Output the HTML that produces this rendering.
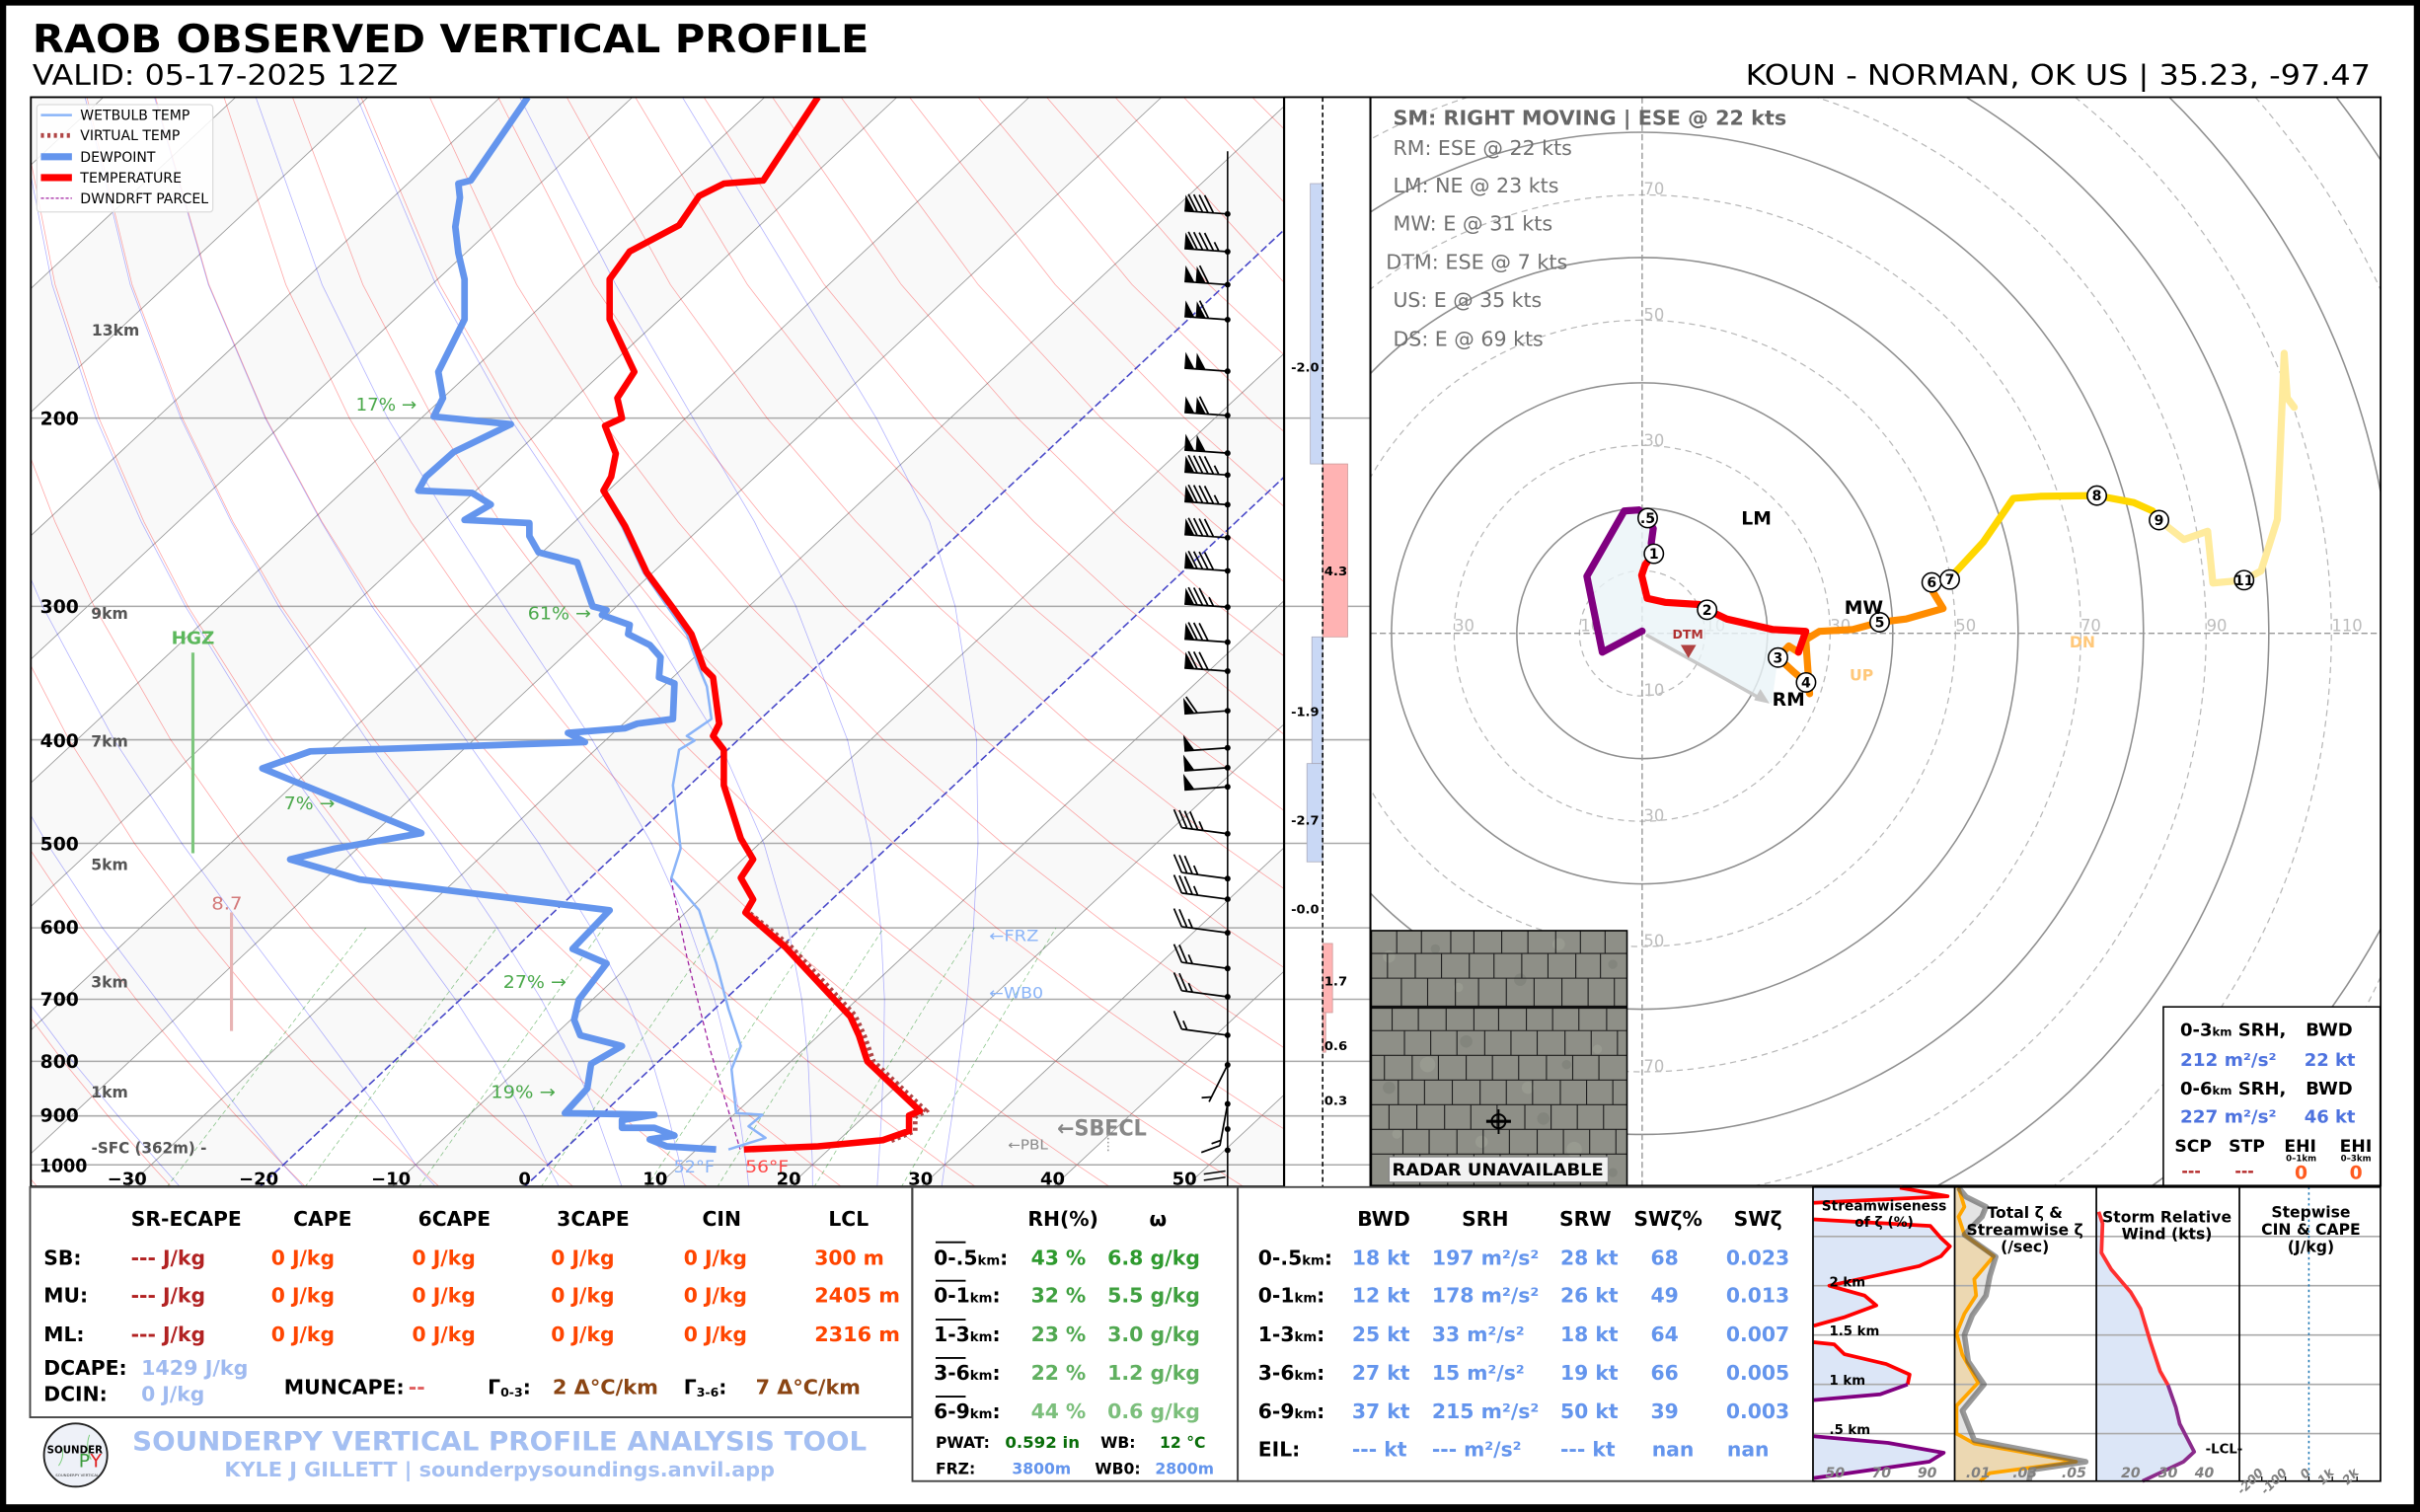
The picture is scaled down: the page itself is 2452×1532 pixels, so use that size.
<!DOCTYPE html>
<html><head><meta charset="utf-8">
<style>
html,body{margin:0;padding:0;background:#000;width:2452px;height:1532px;overflow:hidden;}
svg{display:block;}
text{font-family:"DejaVu Sans","Liberation Sans",sans-serif;}
.b{font-weight:bold;}
.mono{font-family:"DejaVu Sans Mono","Liberation Mono",monospace;font-weight:bold;}
</style></head>
<body>
<svg xmlns="http://www.w3.org/2000/svg" width="2452" height="1532" viewBox="0 0 1568 980" preserveAspectRatio="none" style="overflow:hidden">
<defs>
<clipPath id="cs"><rect x="20" y="63" width="812" height="706"/></clipPath>
<clipPath id="cb"><rect x="832" y="63" width="56" height="706"/></clipPath>
<clipPath id="ch"><rect x="888" y="63" width="654.5" height="705.5"/></clipPath>
<clipPath id="cmap"><rect x="888.5" y="603.2" width="165.7" height="165.3"/></clipPath>
<g id="bF4" stroke="#000" stroke-width="1.1" fill="none"><path d="M0,0H-28 M-19.7,0l-6.5,-11 M-16.2,0l-6.5,-11 M-12.7,0l-6.5,-11 M-9.2,0l-6.5,-11"/><polygon points="-28,0 -28,-10.5 -21.5,0" fill="#000" stroke="none"/></g>
<g id="bF4h" stroke="#000" stroke-width="1.1" fill="none"><path d="M0,0H-28 M-19.7,0l-6.5,-11 M-16.2,0l-6.5,-11 M-12.7,0l-6.5,-11 M-9.2,0l-6.5,-11 M-5.7,0l-3.25,-5.5"/><polygon points="-28,0 -28,-10.5 -21.5,0" fill="#000" stroke="none"/></g>
<g id="bFF1" stroke="#000" stroke-width="1.1" fill="none"><path d="M0,0H-28 M-12.4,0l-6.5,-11"/><polygon points="-28,0 -28,-10.5 -21.5,0" fill="#000" stroke="none"/><polygon points="-20.7,0 -20.7,-10.5 -14.2,0" fill="#000" stroke="none"/></g>
<g id="bFF" stroke="#000" stroke-width="1.1" fill="none"><path d="M0,0H-28"/><polygon points="-28,0 -28,-10.5 -21.5,0" fill="#000" stroke="none"/><polygon points="-20.7,0 -20.7,-10.5 -14.2,0" fill="#000" stroke="none"/></g>
<g id="bF3h" stroke="#000" stroke-width="1.1" fill="none"><path d="M0,0H-28 M-19.7,0l-6.5,-11 M-16.2,0l-6.5,-11 M-12.7,0l-6.5,-11 M-9.2,0l-3.25,-5.5"/><polygon points="-28,0 -28,-10.5 -21.5,0" fill="#000" stroke="none"/></g>
<g id="bF3" stroke="#000" stroke-width="1.1" fill="none"><path d="M0,0H-28 M-19.7,0l-6.5,-11 M-16.2,0l-6.5,-11 M-12.7,0l-6.5,-11"/><polygon points="-28,0 -28,-10.5 -21.5,0" fill="#000" stroke="none"/></g>
<g id="bF1" stroke="#000" stroke-width="1.1" fill="none"><path d="M0,0H-28 M-19.7,0l-6.5,-11"/><polygon points="-28,0 -28,-10.5 -21.5,0" fill="#000" stroke="none"/></g>
<g id="bF" stroke="#000" stroke-width="1.1" fill="none"><path d="M0,0H-28"/><polygon points="-28,0 -28,-10.5 -21.5,0" fill="#000" stroke="none"/></g>
<g id="b4h" stroke="#000" stroke-width="1.1" fill="none"><path d="M0,0H-30 M-30,0l-6.5,-11 M-26.5,0l-6.5,-11 M-23,0l-6.5,-11 M-19.5,0l-6.5,-11 M-16,0l-3.25,-5.5"/></g>
<g id="b3h" stroke="#000" stroke-width="1.1" fill="none"><path d="M0,0H-30 M-30,0l-6.5,-11 M-26.5,0l-6.5,-11 M-23,0l-6.5,-11 M-19.5,0l-3.25,-5.5"/></g>
<g id="b2h" stroke="#000" stroke-width="1.1" fill="none"><path d="M0,0H-30 M-30,0l-6.5,-11 M-26.5,0l-6.5,-11 M-23,0l-3.25,-5.5"/></g>
<g id="b1h" stroke="#000" stroke-width="1.1" fill="none"><path d="M0,0H-30 M-30,0l-6.5,-11 M-26.5,0l-3.25,-5.5"/></g>
</defs>
<rect x="0" y="0" width="1568" height="980" fill="#000"/>
<rect x="4" y="3.6" width="1560" height="971.4" fill="#fff"/>

<text x="21" y="34" class="b" font-size="25" textLength="542" lengthAdjust="spacingAndGlyphs">RAOB OBSERVED VERTICAL PROFILE</text>
<text x="21" y="55" font-size="18" textLength="237" lengthAdjust="spacingAndGlyphs">VALID: 05-17-2025 12Z</text>
<text x="1131" y="55" font-size="18" textLength="405" lengthAdjust="spacingAndGlyphs">KOUN - NORMAN, OK US | 35.23, -97.47</text>

<!-- SKEW-T -->
<g clip-path="url(#cs)">
  <rect x="20" y="63" width="812" height="706" fill="#fff"/>
  <g fill="#f9f9f9">
    <polygon points="20,63 67,63 20,106.9"/>
    <polygon points="20,187 152.7,63 238.4,63 20,267.1"/>
    <polygon points="20,347.2 324.1,63 409.8,63 20,427.3"/>
    <polygon points="20,507.4 495.5,63 581.2,63 20,587.5"/>
    <polygon points="20,667.6 666.9,63 752.6,63 20,747.7"/>
    <polygon points="81.8,770 832,68.9 832,149 167.5,770"/>
    <polygon points="253.2,770 832,229.1 832,309.2 338.9,770"/>
    <polygon points="424.6,770 832,389.3 832,469.3 510.3,770"/>
    <polygon points="596,770 832,549.4 832,629.5 681.7,770"/>
    <polygon points="767.4,770 832,709.6 832,770"/>
  </g>
  <path d="M20,271H832 M20,393H832 M20,479.5H832 M20,546.6H832 M20,601.4H832 M20,647.7H832 M20,687.9H832 M20,723.3H832 M20,755H832" stroke="#a9a9a9" stroke-width="1" fill="none"/>
  <path d="M20,106.9L67,63 M20,187L152.7,63 M20,267.1L238.4,63 M20,347.2L324.1,63 M20,427.3L409.8,63 M20,507.4L495.5,63 M20,587.5L581.2,63 M20,667.6L666.9,63 M20,747.7L752.6,63 M81.8,770L832,68.9 M253.2,770L832,229.1 M424.6,770L832,389.3 M510.3,770L832,469.3 M596,770L832,549.4 M681.7,770L832,629.5 M767.4,770L832,709.6" stroke="#999" stroke-width="0.55" fill="none"/>
  <path fill="none" stroke="#ff0000" stroke-opacity="0.35" stroke-width="0.5" d="M24.5,769.7 L20,764.3
M111.4,769.7 L97.9,755 L70,723.3 L41,687.9 L20,660
M198.3,769.7 L183.6,755 L153.2,723.3 L121.4,687.9 L88.2,647.7 L53.3,601.4 L20,551.4
M285.2,769.7 L269.3,755 L236.4,723.3 L201.8,687.9 L165.6,647.7 L127.4,601.4 L87.1,546.6 L44.7,479.5 L20,431.5
M372.1,769.7 L355,755 L319.5,723.3 L282.2,687.9 L243,647.7 L201.4,601.4 L157.4,546.6 L110.6,479.5 L61,393 L35.6,338.1 L20,297.2
M459,769.7 L440.7,755 L402.7,723.3 L362.6,687.9 L320.4,647.7 L275.5,601.4 L227.7,546.6 L176.6,479.5 L121.7,393 L93.2,338.1 L64.1,271 L35.7,184.5 L20,104.4
M545.9,769.7 L526.4,755 L485.8,723.3 L443,687.9 L397.8,647.7 L349.5,601.4 L298,546.6 L242.5,479.5 L182.5,393 L150.9,338.1 L118.2,271 L85.6,184.5 L56.2,62.6
M632.8,769.7 L612.1,755 L569,723.3 L523.5,687.9 L475.2,647.7 L423.6,601.4 L368.3,546.6 L308.5,479.5 L243.2,393 L208.6,338.1 L172.3,271 L135.4,184.5 L100.6,62.6
M719.7,769.7 L697.8,755 L652.2,723.3 L603.9,687.9 L552.6,647.7 L497.7,601.4 L438.6,546.6 L374.5,479.5 L304,393 L266.2,338.1 L226.4,271 L185.2,184.5 L145,62.6
M806.6,769.7 L783.5,755 L735.3,723.3 L684.3,687.9 L630,647.7 L571.7,601.4 L508.9,546.6 L440.4,479.5 L364.8,393 L323.9,338.1 L280.5,271 L235.1,184.5 L189.4,62.6
M893.5,769.7 L869.2,755 L818.5,723.3 L764.7,687.9 L707.4,647.7 L645.8,601.4 L579.2,546.6 L506.4,479.5 L425.5,393 L381.6,338.1 L334.6,271 L284.9,184.5 L233.8,62.6
M980.4,769.7 L954.9,755 L901.6,723.3 L845.1,687.9 L784.8,647.7 L719.9,601.4 L649.5,546.6 L572.4,479.5 L486.3,393 L439.2,338.1 L388.8,271 L334.8,184.5 L278.2,62.6
M984.8,723.3 L925.5,687.9 L862.2,647.7 L793.9,601.4 L719.8,546.6 L638.3,479.5 L547,393 L496.9,338.1 L442.9,271 L384.6,184.5 L322.6,62.6
M1068,723.3 L1005.9,687.9 L939.6,647.7 L868,601.4 L790.1,546.6 L704.3,479.5 L607.8,393 L554.6,338.1 L497,271 L434.4,184.5 L367,62.6
M1086.3,687.9 L1017,647.7 L942,601.4 L860.4,546.6 L770.3,479.5 L668.6,393 L612.2,338.1 L551.1,271 L484.3,184.5 L411.4,62.6
M1094.4,647.7 L1016.1,601.4 L930.7,546.6 L836.2,479.5 L729.3,393 L669.9,338.1 L605.2,271 L534.1,184.5 L455.8,62.6
M1090.1,601.4 L1001,546.6 L902.2,479.5 L790.1,393 L727.6,338.1 L659.3,271 L584,184.5 L500.2,62.6
M1071.3,546.6 L968.1,479.5 L850.9,393 L785.2,338.1 L713.4,271 L633.8,184.5 L544.6,62.6
M1034.1,479.5 L911.6,393 L842.9,338.1 L767.6,271 L683.7,184.5 L589,62.6
M972.4,393 L900.6,338.1 L821.7,271 L733.5,184.5 L633.4,62.6
M1033.2,393 L958.2,338.1 L875.8,271 L783.3,184.5 L677.8,62.6
M1015.9,338.1 L929.9,271 L833.2,184.5 L722.2,62.6
M984,271 L883,184.5 L766.6,62.6
M1038.1,271 L932.8,184.5 L811,62.6"/>
  <path fill="none" stroke="#0000ff" stroke-opacity="0.3" stroke-width="0.5" d="M610.1,769.7 L612.1,755 L616.9,723.3 L621.3,687.9 L626.6,647.7 L630.7,601.4 L633.7,546.6 L632.7,479.5 L618.9,393 L602.3,338.1 L567.8,271 L515.5,184.5 L441.9,62.6
M568.3,769.7 L569.3,755 L571.1,723.3 L572.5,687.9 L573.1,647.7 L570.7,601.4 L564.3,546.6 L549.1,479.5 L515.7,393 L488.8,338.1 L449.1,271 L399,184.5 L336.5,62.6
M526.5,769.7 L526.4,755 L525.2,723.3 L523.6,687.9 L519.5,647.7 L510.7,601.4 L494.9,546.6 L465.5,479.5 L412.4,393 L375.2,338.1 L330.4,271 L282.4,184.5 L231.1,62.6
M485.2,769.7 L483.6,755 L479.1,723.3 L473.1,687.9 L463,647.7 L446.9,601.4 L422.1,546.6 L383.7,479.5 L326.7,393 L291.7,338.1 L251.2,271 L208.7,184.5 L165.6,62.6
M443.8,769.7 L440.7,755 L433,723.3 L422.5,687.9 L406.4,647.7 L383,601.4 L349.2,546.6 L301.9,479.5 L241,393 L208.1,338.1 L171.9,271 L135,184.5 L100,62.6
M403.1,769.7 L397.9,755 L386.6,723.3 L371.5,687.9 L350.7,647.7 L322.2,601.4 L285.4,546.6 L237.6,479.5 L180.6,393 L149.8,338.1 L117.1,271 L84.4,184.5 L55,62.6
M362.4,769.7 L355,755 L340.1,723.3 L320.5,687.9 L295,647.7 L261.3,601.4 L221.5,546.6 L173.3,479.5 L120.1,393 L91.5,338.1 L62.2,271 L33.8,184.5 L20,113.8
M282.7,769.7 L269.3,755 L248.4,723.3 L222.4,687.9 L192.6,647.7 L157.6,601.4 L117.8,546.6 L73.9,479.5 L27.6,393 L20,375.3
M197,769.7 L183.6,755 L157.9,723.3 L131.1,687.9 L101.3,647.7 L66.4,601.4 L30.4,546.6 L20,528.6
M117,769.7 L104,755 L76.5,723.3 L47,687.9 L20,651.7"/>
  <path fill="none" stroke="#008000" stroke-opacity="0.45" stroke-width="0.5" stroke-dasharray="3,2" d="M107.9,769.7 L119.1,755 L143.3,723.3 L170.4,687.9 L201.3,647.7 L237.1,601.4
M197.4,769.7 L208.2,755 L231.4,723.3 L257.5,687.9 L287.3,647.7 L321.8,601.4
M271.1,769.7 L281.5,755 L303.8,723.3 L329,687.9 L357.8,647.7 L391.1,601.4
M350.3,769.7 L360.2,755 L381.7,723.3 L405.9,687.9 L433.5,647.7 L465.7,601.4
M418.7,769.7 L428.3,755 L448.9,723.3 L472.2,687.9 L498.9,647.7 L529.8,601.4
M464.5,769.7 L473.7,755 L493.8,723.3 L516.4,687.9 L542.5,647.7 L572.6,601.4
M527.3,769.7 L536.2,755 L555.5,723.3 L577.3,687.9 L602.3,647.7 L631.4,601.4
M583.8,769.7 L592.4,755 L610.9,723.3 L632,687.9 L656.1,647.7 L684.2,601.4"/>
  <path d="M167.5,770L832,149 M338.9,770L832,309.2" stroke="#4646c8" stroke-width="1" stroke-dasharray="5,2" fill="none"/>

  <polyline points="434.6,569 445,620 460,680 472,720 479.6,745" fill="none" stroke="#a020a0" stroke-width="0.8" stroke-dasharray="3,2"/>
  <polyline points="390,318 403,341 417,371 433,394 445,411 453,433 458,445 461,466 445,477 450,480 440,486 436,509 441,550 435,569 453,590 464,624 472,654 480,678 474,693 477,721.5 494,722.5 485,730 496,737.5 472,745" fill="none" stroke="#8ab4f8" stroke-width="1.6" stroke-linejoin="round"/>
  <polyline points="486,592 512,613 554,658 560,671 566,688 600,720 593,724 593,733 576,740" fill="none" stroke="#b04545" stroke-width="3" stroke-dasharray="2,2.2"/>
  <polyline points="342,63 305,117 297,119 298,128 295,147 297,164 301,181 301,207 284,241 287,258 281,270 331,275 294,293 276,309 271,318 306,319.5 318,327 301,337 343,339 343,347.5 349,358 374,364.5 384,393 393,395.4 390,398.6 408,405 407,411 421,418 428,426 427,439 437,443 436,466 413,469 405,472 368,475 379,481 201,487 170,498 273,540 217,550 188,557 233,570 395,590 371,615 393,624.5 375,648 372,661 376,671 403,678 383,689.5 380.5,705.5 366,721.5 424,722.5 403,726 403,731 424,731 437,736 421,738.5 432,743 464,745" fill="none" stroke="#6495ed" stroke-width="4.3" stroke-linejoin="round"/>
  <polyline points="530,63 494.5,117 469,119 453,127 440,146 408,163 395,181 395,207 411,241 400,258 403,271 392,276 399,294 396,309 391,318 405,341 419,371 436,394 448,411 456,433 462,439 466,469 462,477 469,486 469,509 480,543.5 488,557 480,569 488,583 483,591.5 509,614 551,659 556.5,671 562,688 596,720 589,723 589,733 572,739 530,743 482,745" fill="none" stroke="#ff0000" stroke-width="4.2" stroke-linejoin="round"/>

  <rect x="23.9" y="67.8" width="114" height="69.6" fill="#fff" fill-opacity="0.85" stroke="#dcdcdc" stroke-width="0.8" rx="2"/>
  <line x1="26.5" x2="46.6" y1="74.6" y2="74.6" stroke="#8ab4f8" stroke-width="1.6"/>
  <line x1="26.5" x2="46.6" y1="87.8" y2="87.8" stroke="#b04545" stroke-width="3" stroke-dasharray="2,2.2"/>
  <line x1="26.5" x2="46.6" y1="101.6" y2="101.6" stroke="#6495ed" stroke-width="4.5"/>
  <line x1="26.5" x2="46.6" y1="115.1" y2="115.1" stroke="#ff0000" stroke-width="4.5"/>
  <line x1="26.5" x2="46.6" y1="128.5" y2="128.5" stroke="#a020a0" stroke-width="0.8" stroke-dasharray="2,1.2"/>
  <text x="52" y="77.8" font-size="8.8" textLength="71" lengthAdjust="spacingAndGlyphs">WETBULB TEMP</text>
  <text x="52" y="91" font-size="8.8" textLength="64.6" lengthAdjust="spacingAndGlyphs">VIRTUAL TEMP</text>
  <text x="52" y="104.8" font-size="8.8" textLength="48.7" lengthAdjust="spacingAndGlyphs">DEWPOINT</text>
  <text x="52" y="118.3" font-size="8.8" textLength="65.7" lengthAdjust="spacingAndGlyphs">TEMPERATURE</text>
  <text x="52" y="131.7" font-size="8.8" textLength="83" lengthAdjust="spacingAndGlyphs">DWNDRFT PARCEL</text>

  <g class="b" font-size="10" fill="#555">
    <text x="59.4" y="217.6">13km</text>
    <text x="59" y="401">9km</text>
    <text x="59" y="484">7km</text>
    <text x="59" y="564">5km</text>
    <text x="59" y="640">3km</text>
    <text x="59" y="711.2">1km</text>
    <text x="59.2" y="747.4" textLength="74.7" lengthAdjust="spacingAndGlyphs">-SFC (362m) -</text>
  </g>
  <g font-size="11.5" fill="#4aa84a">
    <text x="230.5" y="266" textLength="39.5" lengthAdjust="spacingAndGlyphs">17% →</text>
    <text x="342" y="401.5" textLength="41" lengthAdjust="spacingAndGlyphs">61% →</text>
    <text x="184" y="524.5" textLength="33" lengthAdjust="spacingAndGlyphs">7% →</text>
    <text x="326" y="640.2" textLength="41" lengthAdjust="spacingAndGlyphs">27% →</text>
    <text x="318" y="711.6" textLength="42" lengthAdjust="spacingAndGlyphs">19% →</text>
  </g>
  <text x="111" y="417.5" class="b" font-size="11.5" fill="#5cb85c" textLength="28" lengthAdjust="spacingAndGlyphs">HGZ</text>
  <line x1="125" x2="125" y1="423" y2="553" stroke="#7dc67d" stroke-width="2"/>
  <text x="137" y="589.5" font-size="11.5" fill="#d47a7a" textLength="20" lengthAdjust="spacingAndGlyphs">8.7</text>
  <line x1="150" x2="150" y1="591.4" y2="668.2" stroke="#e8b4b4" stroke-width="2"/>
  <text x="641" y="610" font-size="10" fill="#8ab4f8" textLength="32" lengthAdjust="spacingAndGlyphs">←FRZ</text>
  <text x="641" y="647" font-size="10" fill="#8ab4f8" textLength="35" lengthAdjust="spacingAndGlyphs">←WB0</text>
  <text x="685" y="736" class="b" font-size="14" fill="#888" textLength="58" lengthAdjust="spacingAndGlyphs">←SBECL</text>
  <text x="653" y="745" font-size="8.5" fill="#888" textLength="26" lengthAdjust="spacingAndGlyphs">←PBL</text>
  <line x1="718" x2="718" y1="735" y2="746" stroke="#999" stroke-width="1" stroke-dasharray="1,1.5"/>
  <text x="436.5" y="760" font-size="11" fill="#8ab4f8" textLength="26.5" lengthAdjust="spacingAndGlyphs">52°F</text>
  <text x="483" y="760" font-size="11" fill="#ff4a4a" textLength="28" lengthAdjust="spacingAndGlyphs">56°F</text>

  <!-- wind barbs -->
  <line x1="795.4" x2="795.4" y1="98" y2="769" stroke="#000" stroke-width="1"/>
  <use href="#bF4" transform="translate(795.4,138.7) rotate(4.09)"/>
  <use href="#bF4h" transform="translate(795.4,163.1) rotate(4.09)"/>
  <use href="#bFF1" transform="translate(795.4,184.5) rotate(4.09)"/>
  <use href="#bFF1" transform="translate(795.4,207.2) rotate(4.09)"/>
  <use href="#bFF" transform="translate(795.4,240.6) rotate(4.09)"/>
  <use href="#bFF1" transform="translate(795.4,269.3) rotate(4.09)"/>
  <use href="#bFF" transform="translate(795.4,293.7) rotate(4.09)"/>
  <use href="#bF4h" transform="translate(795.4,307.9) rotate(4.09)"/>
  <use href="#bF4h" transform="translate(795.4,327.1) rotate(4.09)"/>
  <use href="#bF4" transform="translate(795.4,348.5) rotate(4.09)"/>
  <use href="#bF4" transform="translate(795.4,370) rotate(4.09)"/>
  <use href="#bF3h" transform="translate(795.4,393.5) rotate(4.09)"/>
  <use href="#bF3" transform="translate(795.4,416.2) rotate(4.09)"/>
  <use href="#bF3" transform="translate(795.4,435) rotate(4.09)"/>
  <use href="#bF1" transform="translate(795.4,460.7) rotate(-4.09)"/>
  <use href="#bF" transform="translate(795.4,484.7) rotate(-4.09)"/>
  <use href="#bF" transform="translate(795.4,497.6) rotate(-4.09)"/>
  <use href="#bF" transform="translate(795.4,510) rotate(-4.09)"/>
  <use href="#b4h" transform="translate(795.4,540.4) rotate(7.6)"/>
  <use href="#b3h" transform="translate(795.4,569.5) rotate(7.6)"/>
  <use href="#b3h" transform="translate(795.4,582.8) rotate(7.6)"/>
  <use href="#b2h" transform="translate(795.4,604.6) rotate(7.6)"/>
  <use href="#b2h" transform="translate(795.4,627.7) rotate(7.6)"/>
  <use href="#b2h" transform="translate(795.4,646.1) rotate(7.6)"/>
  <use href="#b1h" transform="translate(795.4,671) rotate(7.6)"/>
  <g transform="translate(795.4,690.2) rotate(-63.4)" stroke="#000" stroke-width="1.1" fill="none"><path d="M0,0H-26.8 M-23.3,0l-3.25,-5.5"/></g>
  <g transform="translate(795.4,715.5) rotate(-79.5)" stroke="#000" stroke-width="1.1" fill="none"><path d="M0,0H-27.5 M-27.5,0l-6.5,-11 M-24,0l-3.25,-5.5"/></g>
  <path d="M780,761L794,759 M780,765L794,763" stroke="#000" stroke-width="1" fill="none"/>
  <g fill="#000">
    <circle cx="795.4" cy="138.7" r="1.9"/><circle cx="795.4" cy="163.1" r="1.9"/><circle cx="795.4" cy="184.5" r="1.9"/>
    <circle cx="795.4" cy="207.2" r="1.9"/><circle cx="795.4" cy="240.6" r="1.9"/><circle cx="795.4" cy="269.3" r="1.9"/>
    <circle cx="795.4" cy="293.7" r="1.9"/><circle cx="795.4" cy="307.9" r="1.9"/><circle cx="795.4" cy="327.1" r="1.9"/>
    <circle cx="795.4" cy="348.5" r="1.9"/><circle cx="795.4" cy="370" r="1.9"/><circle cx="795.4" cy="393.5" r="1.9"/>
    <circle cx="795.4" cy="416.2" r="1.9"/><circle cx="795.4" cy="435" r="1.9"/><circle cx="795.4" cy="460.7" r="1.9"/>
    <circle cx="795.4" cy="484.7" r="1.9"/><circle cx="795.4" cy="497.6" r="1.9"/><circle cx="795.4" cy="510" r="1.9"/>
    <circle cx="795.4" cy="540.4" r="1.9"/><circle cx="795.4" cy="569.5" r="1.9"/><circle cx="795.4" cy="582.8" r="1.9"/>
    <circle cx="795.4" cy="604.6" r="1.9"/><circle cx="795.4" cy="627.7" r="1.9"/><circle cx="795.4" cy="646.1" r="1.9"/>
    <circle cx="795.4" cy="671" r="1.9"/><circle cx="795.4" cy="690.2" r="1.9"/><circle cx="795.4" cy="715.5" r="1.9"/>
    <circle cx="795.4" cy="731.8" r="1.9"/><circle cx="795.4" cy="745.5" r="1.9"/>
  </g>

  <g class="b" font-size="12" fill="#000">
    <text x="26" y="275.3">200</text>
    <text x="26" y="397.3">300</text>
    <text x="26" y="484.3">400</text>
    <text x="26" y="551">500</text>
    <text x="26" y="605">600</text>
    <text x="26" y="652">700</text>
    <text x="26" y="692">800</text>
    <text x="26" y="727">900</text>
    <text x="25.5" y="759.5" textLength="31" lengthAdjust="spacingAndGlyphs">1000</text>
  </g>
  <g class="b" font-size="11.5" fill="#000" text-anchor="middle">
    <text x="82.3" y="768">−30</text>
    <text x="167.6" y="768">−20</text>
    <text x="253.3" y="768">−10</text>
    <text x="340" y="768">0</text>
    <text x="424.5" y="768">10</text>
    <text x="511" y="768">20</text>
    <text x="596.5" y="768">30</text>
    <text x="682" y="768">40</text>
    <text x="767.5" y="768">50</text>
  </g>
</g>
<rect x="20" y="63" width="812" height="706" fill="none" stroke="#000" stroke-width="1.2"/>

<!-- BAR PANEL -->
<g clip-path="url(#cb)">
  <path d="M832,271H888 M832,393H888 M832,479.5H888 M832,546.6H888 M832,601.4H888 M832,647.7H888 M832,687.9H888 M832,723.3H888 M832,755H888" stroke="#a9a9a9" stroke-width="1" fill="none"/>
  <rect x="849" y="119" width="8" height="181.7" fill="#c9d8f5" stroke="#aab" stroke-width="0.5"/>
  <rect x="857" y="300.7" width="16.2" height="112.1" fill="#ffb3b3" stroke="#c99" stroke-width="0.5"/>
  <rect x="850" y="412.8" width="7" height="82.1" fill="#c9d8f5" stroke="#aab" stroke-width="0.5"/>
  <rect x="846.8" y="494.9" width="10.2" height="63.7" fill="#c9d8f5" stroke="#aab" stroke-width="0.5"/>
  <rect x="857" y="611.5" width="6.4" height="44.8" fill="#ffb3b3" stroke="#c99" stroke-width="0.5"/>
  <rect x="857" y="656.3" width="2" height="25.7" fill="#ffb3b3" stroke="#c99" stroke-width="0.5"/>
  <line x1="857" x2="857" y1="63" y2="769" stroke="#000" stroke-width="1" stroke-dasharray="3,2"/>
  <g class="mono" font-size="8">
    <text x="836.5" y="240.8" textLength="18.2" lengthAdjust="spacingAndGlyphs">-2.0</text>
    <text x="858" y="373" textLength="15" lengthAdjust="spacingAndGlyphs">4.3</text>
    <text x="836.5" y="464" textLength="18.2" lengthAdjust="spacingAndGlyphs">-1.9</text>
    <text x="836.5" y="534.6" textLength="18.2" lengthAdjust="spacingAndGlyphs">-2.7</text>
    <text x="836.5" y="592" textLength="18.2" lengthAdjust="spacingAndGlyphs">-0.0</text>
    <text x="858" y="638.8" textLength="15" lengthAdjust="spacingAndGlyphs">1.7</text>
    <text x="858" y="680.5" textLength="15" lengthAdjust="spacingAndGlyphs">0.6</text>
    <text x="858" y="716" textLength="15" lengthAdjust="spacingAndGlyphs">0.3</text>
  </g>
</g>
<line x1="832" x2="832" y1="63" y2="769" stroke="#000" stroke-width="1.4"/>
<line x1="888" x2="888" y1="63" y2="769" stroke="#000" stroke-width="1.4"/>
<line x1="832" x2="888" y1="63" y2="63" stroke="#000" stroke-width="1.2"/>

<!-- HODOGRAPH -->
<g clip-path="url(#ch)">
  <rect x="888" y="63" width="654.5" height="705.5" fill="#fff"/>
  <g fill="none" stroke="#b8b8b8" stroke-width="0.8" stroke-dasharray="4,3">
    <circle cx="1064" cy="410.5" r="40.6"/><circle cx="1064" cy="410.5" r="121.8"/>
    <circle cx="1064" cy="410.5" r="203"/><circle cx="1064" cy="410.5" r="284.2"/>
    <circle cx="1064" cy="410.5" r="365.4"/>
    <path d="M1344.5,63 A446.6,446.6 0 0 1 1331,768.5"/>
    <path d="M1461.3,63 A527.8,527.8 0 0 1 1542.5,187.8 M1542.5,633.2 A527.8,527.8 0 0 1 1451.8,768.5"/>
  </g>
  <g fill="none" stroke="#8f8f8f" stroke-width="1">
    <circle cx="1064" cy="410.5" r="81.2"/><circle cx="1064" cy="410.5" r="162.4"/>
    <circle cx="1064" cy="410.5" r="243.6"/><circle cx="1064" cy="410.5" r="324.8"/>
    <path d="M1274,63 A406,406 0 0 1 1255.5,768.5"/>
    <path d="M1405.5,63 A487.2,487.2 0 0 1 1542.5,318.8 M1542.5,602.2 A487.2,487.2 0 0 1 1394.5,768.5"/>
    <path d="M1513.8,63 A568.4,568.4 0 0 1 1542.5,103.7 M1542.5,717.3 A568.4,568.4 0 0 1 1505.5,768.5"/>
  </g>
  <line x1="888" x2="1542.5" y1="410.5" y2="410.5" stroke="#999" stroke-width="0.9" stroke-dasharray="4,2"/>
  <line x1="1064" x2="1064" y1="63" y2="768.5" stroke="#999" stroke-width="0.9" stroke-dasharray="4,2"/>
  <g font-size="10.5" fill="#bdbdbd">
    <text x="942" y="409">30</text>
    <text x="1024" y="409">10</text>
    <text x="1104.6" y="409">10</text>
    <text x="1185.8" y="409">30</text>
    <text x="1267" y="409">50</text>
    <text x="1348" y="409">70</text>
    <text x="1429.6" y="409">90</text>
    <text x="1510.7" y="409">110</text>
    <text x="1065" y="126">70</text>
    <text x="1065" y="207.5">50</text>
    <text x="1065" y="289">30</text>
    <text x="1065" y="451">10</text>
    <text x="1065" y="532.3">30</text>
    <text x="1065" y="613.5">50</text>
    <text x="1065" y="694.7">70</text>
  </g>
  <polygon points="1064,409 1038.2,422.7 1028.2,373.5 1052.4,331.2 1061.9,330.5 1067.6,335.8 1071.2,342.6 1069.9,352.1 1071.6,358.9 1063.7,372.9 1067.3,387.8 1078.8,390.4 1101,391.8 1106.1,395.2 1118.7,401.2 1148.5,408 1170,409.2 1165.3,422.7 1152,426.2 1148,456" fill="#eaf4f7" fill-opacity="0.8"/>
  <line x1="1066.5" y1="411.4" x2="1142" y2="453.5" stroke="#c8c8c8" stroke-width="2.2"/>
  <polygon points="1146.6,456 1136.5,453.8 1140.6,446.6" fill="#c8c8c8"/>
  <g fill="none" stroke-width="4.6" stroke-linejoin="round" stroke-linecap="round">
    <polyline stroke="#ffeb9c" points="1398.9,337.1 1415,349.7 1430.4,344.3 1433.8,377.9 1454,376 1465,370 1475.6,336.6 1480,229 1482,258 1486.5,264"/>
    <polyline stroke="#ffd700" points="1263.3,375.6 1267.6,370.2 1285,351.4 1304.5,323 1321.9,321.7 1358.6,321.2 1382.5,325.7 1394.6,331.1 1398.9,337.1"/>
    <polyline stroke="#ff8c00" points="1165.3,422.7 1159,418.7 1152,426.2 1161.4,434.8 1170.2,442.3 1172.5,449.6 1170,414.6 1178.9,409.2 1200.5,408 1217.9,403.3 1235,401.2 1259,394.4 1252.5,383.7 1251.6,377.5 1263.3,375.6"/>
    <polyline stroke="#ff0000" points="1071.6,358.9 1066,366 1063.7,372.9 1067.3,387.8 1078.8,390.4 1101,391.8 1106.1,395.2 1118.7,401.2 1148.5,408 1170,409.2 1165.3,422.7"/>
    <polyline stroke="#800080" points="1064,409 1038.2,422.7 1028.2,373.5 1052.4,331.2 1061.9,330.5 1067.6,335.8 1071.2,342.6 1069.9,352.1 1071.6,358.9"/>
  </g>
  <g stroke="#000" stroke-width="1" fill="#fff">
    <circle cx="1067.6" cy="335.8" r="6.2"/><circle cx="1071.6" cy="358.9" r="6.2"/>
    <circle cx="1106.1" cy="395.2" r="6.2"/><circle cx="1152" cy="426.2" r="6.2"/>
    <circle cx="1170.2" cy="442.3" r="6.2"/><circle cx="1217.9" cy="403.3" r="6.2"/>
    <circle cx="1251.6" cy="377.5" r="6.2"/><circle cx="1263.3" cy="375.6" r="6.2"/>
    <circle cx="1358.6" cy="321.2" r="6.2"/><circle cx="1398.9" cy="337.1" r="6.2"/>
    <circle cx="1454" cy="376" r="6.2"/>
  </g>
  <g class="b" font-size="9" text-anchor="middle" fill="#000">
    <text x="1067.6" y="339">.5</text><text x="1071.6" y="362.1">1</text>
    <text x="1106.1" y="398.4">2</text><text x="1152" y="429.4">3</text>
    <text x="1170.2" y="445.5">4</text><text x="1217.9" y="406.5">5</text>
    <text x="1251.6" y="380.7">6</text><text x="1263.3" y="378.8">7</text>
    <text x="1358.6" y="324.4">8</text><text x="1398.9" y="340.3">9</text>
    <text x="1454" y="379.2">11</text>
  </g>
  <text x="1128.2" y="340" class="b" font-size="12">LM</text>
  <text x="1195" y="398" class="b" font-size="12">MW</text>
  <text x="1148.3" y="457.5" class="b" font-size="12">RM</text>
  <text x="1083.6" y="414" class="b" font-size="8" fill="#b03030">DTM</text>
  <polygon points="1089,418 1099,418 1094,426.5" fill="#b04040"/>
  <text x="1198.4" y="441" class="b" font-size="10" fill="#ffc87a">UP</text>
  <text x="1340.9" y="419.5" class="b" font-size="10" fill="#ffc87a">DN</text>

  <text x="902.6" y="81" class="b" font-size="13" fill="#666" textLength="255" lengthAdjust="spacingAndGlyphs">SM: RIGHT MOVING | ESE @ 22 kts</text>
  <g font-size="13" fill="#707070">
    <text x="902.6" y="100.5" textLength="116" lengthAdjust="spacingAndGlyphs">RM: ESE @ 22 kts</text>
    <text x="902.6" y="124.8" textLength="107.4" lengthAdjust="spacingAndGlyphs">LM: NE @ 23 kts</text>
    <text x="902.6" y="149.5" textLength="103.4" lengthAdjust="spacingAndGlyphs">MW: E @ 31 kts</text>
    <text x="898" y="174.3" textLength="117.7" lengthAdjust="spacingAndGlyphs">DTM: ESE @ 7 kts</text>
    <text x="902.6" y="199" textLength="96.4" lengthAdjust="spacingAndGlyphs">US: E @ 35 kts</text>
    <text x="902.6" y="224.3" textLength="97.4" lengthAdjust="spacingAndGlyphs">DS: E @ 69 kts</text>
  </g>

  <!-- radar map -->
  <g clip-path="url(#cmap)">
    <rect x="888.5" y="603.2" width="165.7" height="165.3" fill="#8e8f87"/>
    <g fill="#9fa296" fill-opacity="0.6">
      <circle cx="900" cy="620" r="4"/><circle cx="945" cy="640" r="3"/><circle cx="1010" cy="612" r="4"/>
      <circle cx="925" cy="690" r="5"/><circle cx="990" cy="705" r="4"/><circle cx="1035" cy="680" r="3"/>
      <circle cx="960" cy="740" r="4"/><circle cx="1020" cy="745" r="5"/><circle cx="905" cy="735" r="3"/>
    </g>
    <g fill="#7b7e76" fill-opacity="0.6">
      <circle cx="930" cy="615" r="3"/><circle cx="985" cy="635" r="4"/><circle cx="1045" cy="625" r="3"/>
      <circle cx="950" cy="675" r="4"/><circle cx="1015" cy="690" r="3"/><circle cx="900" cy="705" r="4"/>
      <circle cx="940" cy="755" r="3"/><circle cx="1000" cy="725" r="4"/><circle cx="1045" cy="760" r="3"/>
    </g>
    <path fill="none" stroke="#1e1e1e" stroke-width="0.7" d="M888.5,618H1054.2 M888.5,634H1054.2 M888.5,668H1054.2 M888.5,684H1054.2 M888.5,700H1054.2 M888.5,716H1054.2 M888.5,732H1054.2 M888.5,748H1054.2
M905,603V618 M921,603V618 M940,603V618 M955,603V618 M973,603V618 M990,603V618 M1008,603V618 M1024,603V618 M1040,603V618
M899,618V634 M917,618V634 M934,618V634 M952,618V634 M968,618V634 M986,618V634 M1003,618V634 M1021,618V634 M1037,618V634
M908,634V653 M925,634V653 M943,634V653 M958,634V653 M976,634V653 M994,634V653 M1012,634V653 M1029,634V653 M1046,634V653
M902,653V668 M919,653V668 M937,653V668 M955,653V668 M971,653V668 M989,653V668 M1006,653V668 M1023,653V668 M1041,653V668
M910,668V684 M927,668V684 M944,668V684 M962,668V684 M979,668V684 M996,668V684 M1014,668V684 M1031,668V684 M1048,668V684
M897,684V700 M915,684V700 M932,684V700 M950,684V700 M967,684V700 M984,684V700 M1002,684V700 M1019,684V700 M1036,684V700
M906,700V716 M923,700V716 M941,700V716 M959,700V716 M976,700V716 M993,700V716 M1011,700V716 M1028,700V716 M1045,700V716
M900,716V732 M918,716V732 M936,716V732 M953,716V732 M970,716V732 M988,716V732 M1005,716V732 M1022,716V732 M1039,716V732
M909,732V748 M926,732V748 M944,732V748 M961,732V748 M978,732V748 M996,732V748 M1013,732V748 M1030,732V748 M1047,732V748
M903,748V768 M920,748V768 M938,748V768 M955,748V768 M972,748V768 M990,748V768 M1007,748V768 M1024,748V768 M1041,748V768"/>
    <line x1="888.5" x2="1054.2" y1="652.8" y2="652.8" stroke="#111" stroke-width="2"/>
    <circle cx="971" cy="726.8" r="4.5" fill="none" stroke="#000" stroke-width="1.3"/>
    <line x1="963" x2="979" y1="726.8" y2="726.8" stroke="#000" stroke-width="2"/>
    <line x1="971" x2="971" y1="719" y2="735" stroke="#000" stroke-width="1.2"/>
    <rect x="900" y="749.8" width="142" height="16.4" fill="#f2f2f2" stroke="#888" stroke-width="0.8"/>
    <text x="902" y="762" class="b" font-size="11" textLength="137" lengthAdjust="spacingAndGlyphs">RADAR UNAVAILABLE</text>
  </g>
  <rect x="888.5" y="603.2" width="165.7" height="165.3" fill="none" stroke="#000" stroke-width="1"/>

  <rect x="1401.7" y="652.6" width="140.5" height="116" fill="#fff" stroke="#000" stroke-width="1"/>
  <g class="b">
    <text x="1412.6" y="671.5" font-size="11.5">0-3<tspan font-size="7.5">km</tspan> SRH,</text>
    <text x="1494" y="671.5" font-size="11.5">BWD</text>
    <text x="1412.6" y="691" font-size="11.5" fill="#4e73df" textLength="62.4" lengthAdjust="spacingAndGlyphs">212 m²/s²</text>
    <text x="1493" y="691" font-size="11.5" fill="#4e73df">22 kt</text>
    <text x="1412.6" y="709.5" font-size="11.5">0-6<tspan font-size="7.5">km</tspan> SRH,</text>
    <text x="1494" y="709.5" font-size="11.5">BWD</text>
    <text x="1412.6" y="727.5" font-size="11.5" fill="#4e73df" textLength="62.4" lengthAdjust="spacingAndGlyphs">227 m²/s²</text>
    <text x="1493" y="727.5" font-size="11.5" fill="#4e73df">46 kt</text>
    <text x="1409" y="746.5" font-size="11">SCP</text>
    <text x="1444" y="746.5" font-size="11">STP</text>
    <text x="1480" y="746.5" font-size="11">EHI</text>
    <text x="1516" y="746.5" font-size="11">EHI</text>
    <text x="1491" y="752.5" font-size="5.5" text-anchor="middle">0–1km</text>
    <text x="1526.5" y="752.5" font-size="5.5" text-anchor="middle">0–3km</text>
    <text x="1413.5" y="762.5" font-size="10" fill="#b22222">---</text>
    <text x="1448" y="762.5" font-size="10" fill="#b22222">---</text>
    <text x="1491" y="764" font-size="12" fill="#ff5a1f" text-anchor="middle">0</text>
    <text x="1526.5" y="764" font-size="12" fill="#ff5a1f" text-anchor="middle">0</text>
  </g>
</g>
<rect x="888" y="63" width="654.5" height="705.5" fill="none" stroke="#000" stroke-width="1.2"/>

<!-- BOTTOM LEFT TABLE -->
<rect x="19.5" y="769.4" width="571.5" height="149.2" fill="#fff" stroke="#444" stroke-width="1.2"/>
<g class="b" font-size="13">
  <g text-anchor="middle">
    <text x="120.7" y="794.5">SR-ECAPE</text>
    <text x="209" y="794.5">CAPE</text>
    <text x="294.4" y="794.5">6CAPE</text>
    <text x="384.3" y="794.5">3CAPE</text>
    <text x="467.6" y="794.5">CIN</text>
    <text x="549.8" y="794.5">LCL</text>
  </g>
  <text x="28.3" y="819.7">SB:</text>
  <text x="28.3" y="844.2">MU:</text>
  <text x="28.3" y="869.2">ML:</text>
  <g fill="#b22222">
    <text x="84.8" y="819.7">--- J/kg</text>
    <text x="84.8" y="844.2">--- J/kg</text>
    <text x="84.8" y="869.2">--- J/kg</text>
  </g>
  <g fill="#ff4500">
    <text x="175.7" y="819.7">0 J/kg</text><text x="267" y="819.7">0 J/kg</text><text x="357" y="819.7">0 J/kg</text><text x="443" y="819.7">0 J/kg</text>
    <text x="175.7" y="844.2">0 J/kg</text><text x="267" y="844.2">0 J/kg</text><text x="357" y="844.2">0 J/kg</text><text x="443" y="844.2">0 J/kg</text>
    <text x="175.7" y="869.2">0 J/kg</text><text x="267" y="869.2">0 J/kg</text><text x="357" y="869.2">0 J/kg</text><text x="443" y="869.2">0 J/kg</text>
    <text x="527.7" y="819.7">300 m</text>
    <text x="527.7" y="844.2" textLength="55.5" lengthAdjust="spacingAndGlyphs">2405 m</text>
    <text x="527.7" y="869.2" textLength="55.5" lengthAdjust="spacingAndGlyphs">2316 m</text>
  </g>
  <text x="28.3" y="891">DCAPE:</text>
  <text x="91.5" y="891" fill="#9fbaf0" textLength="69.3" lengthAdjust="spacingAndGlyphs">1429 J/kg</text>
  <text x="28.3" y="908">DCIN:</text>
  <text x="91.5" y="908" fill="#9fbaf0">0 J/kg</text>
  <text x="184" y="903.5" textLength="78" lengthAdjust="spacingAndGlyphs">MUNCAPE:</text>
  <text x="264.6" y="903.5" fill="#e06060">--</text>
  <text x="316" y="903.5">Γ<tspan font-size="8" dy="1.5">0-3</tspan><tspan dy="-1.5">:</tspan></text>
  <text x="358" y="903.5" fill="#8b4513" textLength="68.5" lengthAdjust="spacingAndGlyphs">2 Δ°C/km</text>
  <text x="443" y="903.5">Γ<tspan font-size="8" dy="1.5">3-6</tspan><tspan dy="-1.5">:</tspan></text>
  <text x="489.6" y="903.5" fill="#8b4513" textLength="68" lengthAdjust="spacingAndGlyphs">7 Δ°C/km</text>
</g>

<!-- footer -->
<circle cx="49" cy="943.1" r="20.5" fill="#eef1f8" stroke="#222" stroke-width="1.2"/>
<path d="M38,950 q4,-6 2,-12 M58,930 q-3,8 1,16" fill="none" stroke="#7c7" stroke-width="0.6"/>
<text x="30.5" y="941.8" class="b" font-size="6.8" textLength="36" lengthAdjust="spacingAndGlyphs">SOUNDER</text>
<text x="51" y="951" font-size="12" fill="#3a9a3a">P</text>
<text x="58.5" y="951" font-size="12" fill="#e02020">Y</text>
<text x="36" y="957" font-size="2.5" fill="#333">SOUNDERPY VERTICAL</text>
<text x="85.8" y="940" class="b" font-size="17" fill="#a4bff2" textLength="475.8" lengthAdjust="spacingAndGlyphs">SOUNDERPY VERTICAL PROFILE ANALYSIS TOOL</text>
<text x="145.4" y="957" class="b" font-size="13" fill="#a4bff2" textLength="356.6" lengthAdjust="spacingAndGlyphs">KYLE J GILLETT | sounderpysoundings.anvil.app</text>

<!-- RH BOX -->
<rect x="591.2" y="769.4" width="210.8" height="190.6" fill="#fff" stroke="#444" stroke-width="1.2"/>
<g class="b">
  <text x="688.8" y="794.5" font-size="13" text-anchor="middle">RH(%)</text>
  <text x="750.3" y="794.5" font-size="13" text-anchor="middle">ω</text>
  <path d="M606.2,805.2H625.7 M606.2,830.1H625.7 M606.2,855.3H625.7 M606.2,880.2H625.7 M606.2,905.2H625.7" stroke="#000" stroke-width="1.2"/>
  <g font-size="13">
    <text x="605" y="819.7">0-.5<tspan font-size="8.5">km</tspan>:</text>
    <text x="605" y="844.2">0-1<tspan font-size="8.5">km</tspan>:</text>
    <text x="605" y="869.4">1-3<tspan font-size="8.5">km</tspan>:</text>
    <text x="605" y="894.3">3-6<tspan font-size="8.5">km</tspan>:</text>
    <text x="605" y="919.3">6-9<tspan font-size="8.5">km</tspan>:</text>
    <text x="668" y="819.7" fill="#2e9a2e">43 %</text><text x="717.6" y="819.7" fill="#2e9a2e" textLength="60" lengthAdjust="spacingAndGlyphs">6.8 g/kg</text>
    <text x="668" y="844.2" fill="#3fa03f">32 %</text><text x="717.6" y="844.2" fill="#3fa03f" textLength="60" lengthAdjust="spacingAndGlyphs">5.5 g/kg</text>
    <text x="668" y="869.4" fill="#50a850">23 %</text><text x="717.6" y="869.4" fill="#50a850" textLength="60" lengthAdjust="spacingAndGlyphs">3.0 g/kg</text>
    <text x="668" y="894.3" fill="#60b060">22 %</text><text x="717.6" y="894.3" fill="#60b060" textLength="60" lengthAdjust="spacingAndGlyphs">1.2 g/kg</text>
    <text x="668" y="919.3" fill="#7cbf7c">44 %</text><text x="717.6" y="919.3" fill="#7cbf7c" textLength="60" lengthAdjust="spacingAndGlyphs">0.6 g/kg</text>
  </g>
  <g font-size="10">
    <text x="606.2" y="938.5">PWAT:</text>
    <text x="651.2" y="938.5" fill="#0a6e0a" textLength="48.4" lengthAdjust="spacingAndGlyphs">0.592 in</text>
    <text x="713.1" y="938.5">WB:</text>
    <text x="751.4" y="938.5" fill="#0a6e0a">12 °C</text>
    <text x="606.2" y="955.3">FRZ:</text>
    <text x="655.7" y="955.3" fill="#6495ed">3800m</text>
    <text x="709.4" y="955.3">WB0:</text>
    <text x="748.4" y="955.3" fill="#6495ed">2800m</text>
  </g>
</g>

<!-- BWD BOX -->
<rect x="802" y="769.4" width="373.4" height="190.6" fill="#fff" stroke="#444" stroke-width="1.2"/>
<g class="b" font-size="13">
  <g text-anchor="middle">
    <text x="896.6" y="794.5">BWD</text>
    <text x="962.3" y="794.5">SRH</text>
    <text x="1027.2" y="794.5">SRW</text>
    <text x="1080.8" y="794.5">SWζ%</text>
    <text x="1139" y="794.5">SWζ</text>
  </g>
  <text x="815.2" y="819.7">0-.5<tspan font-size="8.5">km</tspan>:</text>
  <text x="815.2" y="844.2">0-1<tspan font-size="8.5">km</tspan>:</text>
  <text x="815.2" y="869.4">1-3<tspan font-size="8.5">km</tspan>:</text>
  <text x="815.2" y="894.3">3-6<tspan font-size="8.5">km</tspan>:</text>
  <text x="815.2" y="919.3">6-9<tspan font-size="8.5">km</tspan>:</text>
  <text x="815.2" y="944">EIL:</text>
  <g fill="#6495ed">
    <text x="876" y="819.7">18 kt</text><text x="927.8" y="819.7" textLength="69.4" lengthAdjust="spacingAndGlyphs">197 m²/s²</text><text x="1011" y="819.7">28 kt</text><text x="1078.6" y="819.7" text-anchor="middle">68</text><text x="1118.4" y="819.7">0.023</text>
    <text x="876" y="844.2">12 kt</text><text x="927.8" y="844.2" textLength="69.4" lengthAdjust="spacingAndGlyphs">178 m²/s²</text><text x="1011" y="844.2">26 kt</text><text x="1078.6" y="844.2" text-anchor="middle">49</text><text x="1118.4" y="844.2">0.013</text>
    <text x="876" y="869.4">25 kt</text><text x="927.8" y="869.4" textLength="60" lengthAdjust="spacingAndGlyphs">33 m²/s²</text><text x="1011" y="869.4">18 kt</text><text x="1078.6" y="869.4" text-anchor="middle">64</text><text x="1118.4" y="869.4">0.007</text>
    <text x="876" y="894.3">27 kt</text><text x="927.8" y="894.3" textLength="60" lengthAdjust="spacingAndGlyphs">15 m²/s²</text><text x="1011" y="894.3">19 kt</text><text x="1078.6" y="894.3" text-anchor="middle">66</text><text x="1118.4" y="894.3">0.005</text>
    <text x="876" y="919.3">37 kt</text><text x="927.8" y="919.3" textLength="69.4" lengthAdjust="spacingAndGlyphs">215 m²/s²</text><text x="1011" y="919.3">50 kt</text><text x="1078.6" y="919.3" text-anchor="middle">39</text><text x="1118.4" y="919.3">0.003</text>
    <text x="876" y="944">--- kt</text><text x="927.8" y="944" textLength="58" lengthAdjust="spacingAndGlyphs">--- m²/s²</text><text x="1011" y="944">--- kt</text><text x="1070.3" y="944">nan</text><text x="1119" y="944">nan</text>
  </g>
</g>

<!-- BOTTOM RIGHT PANELS -->
<rect x="1174.7" y="769.4" width="367.7" height="190.6" fill="#fff"/>
<polygon points="1174.7,769.4 1231,769.8 1261.9,775.4 1175.2,779.6 1175.2,790.3 1250.7,794.6 1257.6,802.4 1263.4,807.8 1257.6,814.2 1243.6,820.6 1185.3,833.3 1208.1,839.7 1215.7,846.1 1195.5,853.6 1175.2,859.3 1175.2,870 1188.4,871.3 1195,877.7 1222.1,884.1 1237.3,890.9 1236,897.3 1218.3,903.7 1175.2,907.5 1175.2,930.9 1223.4,935.2 1259.4,941.6 1250,947.4 1175.2,958 1174.7,960" fill="#dce6f7"/>
<polygon points="1266.5,769.4 1269,769.8 1274,775.8 1286.8,782.2 1284.2,788.6 1272.8,800.3 1293.1,814.6 1289.3,827 1286.8,839.7 1277.9,852.5 1272.8,865.3 1275.3,882.4 1285.5,897.3 1271.5,914.3 1279.2,933.5 1351.4,947.4 1315.9,952.7 1314.7,960 1266.5,960" fill="#e4e4e4"/>
<polygon points="1266.5,769.4 1269,769.8 1272.8,782.2 1269,788.6 1272.8,800.3 1291.8,814.2 1279.2,829.1 1280.4,839.7 1272.8,851.5 1267.7,864.2 1271.5,878.1 1281.7,896.2 1267.7,911.1 1267.7,929.2 1279.2,935.6 1345.1,947.4 1289.3,954.8 1283,960 1266.5,960" fill="#ecd8b2"/>
<polygon points="1358.3,785.4 1359.8,785.4 1362.3,792.9 1361.6,812 1367.9,822.7 1380.6,837.6 1386.9,848.3 1393.3,869.6 1399.6,888.7 1404.7,897.7 1409.8,912.2 1412.3,922.8 1421.7,941 1414.8,947.4 1388.2,960 1358.3,960" fill="#dce6f7"/>
<path d="M1174.7,801.4H1542.4 M1174.7,833.3H1542.4 M1174.7,865.3H1542.4 M1174.7,897.3H1542.4 M1174.7,929.2H1542.4" stroke="#aaa" stroke-width="1" fill="none"/>
<g fill="none" stroke-width="2.4" stroke-linejoin="round">
  <polyline stroke="#ff0000" points="1231,769.8 1261.9,775.4 1175.2,779.6"/>
  <polyline stroke="#ff0000" points="1175.2,790.3 1250.7,794.6 1257.6,802.4 1263.4,807.8 1257.6,814.2 1243.6,820.6 1185.3,833.3 1208.1,839.7 1215.7,846.1 1195.5,853.6 1175.2,859.3"/>
  <polyline stroke="#ff0000" points="1175.2,870 1188.4,871.3 1195,877.7 1222.1,884.1 1237.3,890.9 1236,897.3"/>
  <polyline stroke="#800080" points="1236,897.3 1218.3,903.7 1175.2,907.5"/>
  <polyline stroke="#800080" points="1175.2,930.9 1223.4,935.2 1259.4,941.6 1250,947.4 1175.2,958"/>
  <polyline stroke="#ffa500" points="1269,769.8 1272.8,782.2 1269,788.6 1272.8,800.3 1291.8,814.2 1279.2,829.1 1280.4,839.7 1272.8,851.5 1267.7,864.2 1271.5,878.1 1281.7,896.2 1267.7,911.1 1267.7,929.2 1279.2,935.6 1345.1,947.4 1289.3,954.8 1283,960"/>
  <polyline stroke="#555" stroke-opacity="0.6" stroke-width="3.6" points="1269,769.8 1274,775.8 1286.8,782.2 1284.2,788.6 1272.8,800.3 1293.1,814.6 1289.3,827 1286.8,839.7 1277.9,852.5 1272.8,865.3 1275.3,882.4 1285.5,897.3 1271.5,914.3 1279.2,933.5 1351.4,947.4 1315.9,952.7 1314.7,960"/>
  <polyline stroke="#ff3030" points="1359.8,785.4 1362.3,792.9 1361.6,812 1367.9,822.7 1380.6,837.6 1386.9,848.3 1393.3,869.6 1399.6,888.7 1404.7,897.7"/>
  <polyline stroke="#8b2b8b" points="1404.7,897.7 1409.8,912.2 1412.3,922.8 1421.7,941 1414.8,947.4 1388.2,960"/>
</g>
<line x1="1496" x2="1496" y1="769.4" y2="960" stroke="#1f77b4" stroke-width="1" stroke-dasharray="1.5,2"/>
<g stroke="#000" stroke-width="1.1" fill="none">
  <rect x="1174.7" y="769.4" width="367.7" height="190.6"/>
  <line x1="1266.5" x2="1266.5" y1="769.4" y2="960"/>
  <line x1="1358.3" x2="1358.3" y1="769.4" y2="960"/>
  <line x1="1451" x2="1451" y1="769.4" y2="960"/>
</g>
<path d="M1465.5,957V960 M1480.8,957V960 M1496,957V960 M1511.2,957V960 M1527.2,957V960" stroke="#000" stroke-width="0.8"/>
<g class="b" fill="#000" text-anchor="middle">
  <text x="1220.8" y="784.5" font-size="8.8">Streamwiseness</text>
  <text x="1220.8" y="795.2" font-size="8.8">of ζ (%)</text>
  <text x="1312" y="789.5" font-size="10">Total ζ &amp;</text>
  <text x="1312" y="800.5" font-size="10">Streamwise ζ</text>
  <text x="1312" y="811.5" font-size="10">(/sec)</text>
  <text x="1404" y="792.2" font-size="10">Storm Relative</text>
  <text x="1404" y="803" font-size="10">Wind (kts)</text>
  <text x="1497.3" y="789" font-size="10">Stepwise</text>
  <text x="1497.3" y="800.1" font-size="10">CIN &amp; CAPE</text>
  <text x="1497.3" y="811.4" font-size="10">(J/kg)</text>
</g>
<g class="b" font-size="8.5" fill="#000">
  <text x="1185.3" y="833.8">2 km</text>
  <text x="1185.3" y="865.5">1.5 km</text>
  <text x="1185.3" y="897.5">1 km</text>
  <text x="1185.3" y="929.5">.5 km</text>
  <text x="1429" y="942">-LCL-</text>
</g>
<g class="b" font-size="9" fill="#808080" font-style="italic" text-anchor="middle">
  <text x="1189" y="957.5">50</text><text x="1219" y="957.5">70</text><text x="1248.7" y="957.5">90</text>
  <text x="1281.7" y="957.5">.01</text><text x="1312" y="957.5">.03</text><text x="1343.8" y="957.5">.05</text>
  <text x="1380.6" y="957.5">20</text><text x="1404.7" y="957.5">30</text><text x="1428.3" y="957.5">40</text>
</g>
<g class="b" font-size="8" fill="#808080" font-style="italic" text-anchor="end">
  <text transform="translate(1467,955) rotate(-45)">-200</text>
  <text transform="translate(1482.3,955) rotate(-45)">-100</text>
  <text transform="translate(1497.5,955) rotate(-45)">0</text>
  <text transform="translate(1512.7,955) rotate(-45)">1k</text>
  <text transform="translate(1528.7,955) rotate(-45)">2k</text>
</g>
</svg>
</body></html>
